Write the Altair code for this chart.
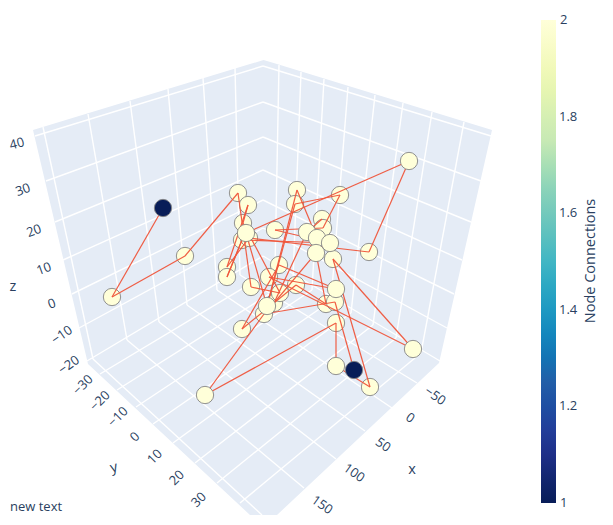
import altair as alt
import pandas as pd

# Scene box outline as projected on the picture
pane_x = [33, 88, 250, 263.5, 277, 439, 492]
pane_top = [130, 113.3, 64.1, 60, 64.1, 113.8, 130]
pane_bottom = [130, 364, 515, 515, 515, 363, 130]

# Grid lines of the scene, as projected
grid_x1 = [35, 46, 55, 63, 72, 79, 87,
           263, 263, 263, 263, 263, 263, 263,
           43, 88, 130, 168, 203, 235,
           279, 301, 324, 348, 375, 403, 432, 464,
           93, 127, 159, 187, 217, 240,
           100, 117, 136, 153, 173, 195, 217, 240]
grid_y1 = [136, 181, 222, 260, 294, 328, 361,
           66, 102, 137, 170, 200, 228, 256,
           127, 114, 101, 89, 78, 68,
           65, 72, 79, 87, 95, 103, 112, 122,
           359, 340, 322, 305, 290, 275,
           374, 390, 407, 424, 443, 463, 483, 503]
grid_x2 = [263, 263, 263, 263, 263, 263, 263,
           491, 481, 471, 462, 454, 447, 440,
           93, 127, 159, 187, 217, 240,
           275, 293, 312, 331, 351, 373, 396, 421,
           262, 304, 336, 365, 392, 417,
           275, 293, 312, 331, 351, 373, 396, 421]
grid_y2 = [66, 102, 137, 170, 200, 228, 256,
           136, 181, 222, 260, 294, 328, 361,
           359, 340, 322, 305, 290, 275,
           269, 279, 290, 301, 313, 325, 338, 353,
           515, 488, 459, 431, 408, 383,
           269, 279, 290, 301, 313, 325, 338, 353]

# Nodes: projected position, connections, drawn above the edges or not
node_x = [112, 185, 238, 248, 243, 227, 227, 251, 279, 275,
          297, 295, 340, 322, 323, 369, 333, 269, 296, 326,
          335, 336, 274, 264, 242, 370, 280, 242, 249, 409,
          413, 205, 336, 163, 354, 307, 317, 330, 316, 246,
          267, 336]
node_y = [297, 256, 193, 205, 223, 267, 277, 287, 265, 230,
          190, 204, 195, 219, 228, 252, 259, 277, 285, 304,
          302, 323, 303, 314, 329, 387, 293, 240, 238, 161,
          349, 395, 366, 208, 370, 232, 238, 243, 253, 233,
          306, 289]
node_conn = [2] * 33 + [1, 1] + [2] * 7
node_front = [False] * 29 + [True] * 13

# Edges as pairs of node positions in the lists above
edge_a = [33, 0, 1, 2, 7, 26, 4, 3, 5, 28, 15, 29, 39, 40, 11, 12, 14, 9, 37, 27,
          6, 13, 35, 22, 38, 19, 18, 24, 8, 41, 17, 30, 16, 25, 32, 21, 31, 23, 20, 10, 10]
edge_b = [0, 1, 2, 7, 26, 4, 3, 5, 28, 15, 29, 39, 40, 11, 12, 14, 9, 37, 27, 6,
          27, 35, 22, 38, 19, 18, 24, 8, 41, 17, 30, 16, 25, 32, 21, 31, 23, 20, 34, 36, 40]

legend_values = [1.2, 1.4, 1.6, 1.8]

tick_text = ["40", "30", "20", "10", "0", "−10", "−20",
             "−30", "−20", "−10", "0", "10", "20", "30",
             "−50", "0", "50", "100", "150"]
tick_x = [17, 23, 34, 44, 52, 62, 69,
          83, 100, 118, 135, 155, 177, 199,
          435, 410, 383, 354, 322]
tick_y = [144, 190, 231, 269, 304, 335, 365,
          385, 401, 417, 437, 457, 478, 500,
          396, 418, 445, 473, 505]
tick_angle = [345, 340, 340, 340, 340, 325, 325,
              315, 315, 315, 315, 315, 315, 315,
              35, 35, 35, 35, 35]

title_text = ["x", "y", "z"]
title_x = [412, 114, 13]
title_y = [470, 468, 287]
title_angle = [0, 345, 0]

end_text = ["2", "1"]
end_x = [560, 560]
end_y = [20, 503]

fnt = "Open Sans"
ink = "#2a3f5f"
x_s = alt.Scale(domain=[8, 605], nice=False, zero=False)
y_s = alt.Scale(domain=[517, 8], nice=False, zero=False)
X = lambda f: alt.X(f, type="quantitative", scale=x_s, axis=None)
Y = lambda f: alt.Y(f, type="quantitative", scale=y_s, axis=None)

pane = alt.Chart(pd.DataFrame({"x": pane_x, "t": pane_top, "b": pane_bottom})).mark_area(
    color="#E5ECF6", opacity=1
).encode(x=X("x"), y=Y("t"), y2="b")

grid = alt.Chart(pd.DataFrame({"x": grid_x1, "y": grid_y1, "x2": grid_x2, "y2": grid_y2})).mark_rule(
    color="white", strokeWidth=1.4
).encode(x=X("x"), y=Y("y"), x2="x2", y2="y2")

nodes = pd.DataFrame({"x": node_x, "y": node_y, "conn": node_conn, "front": node_front})
edges = pd.DataFrame({
    "x": [node_x[i] for i in edge_a], "y": [node_y[i] for i in edge_a],
    "x2": [node_x[i] for i in edge_b], "y2": [node_y[i] for i in edge_b],
})

color = alt.Color(
    "conn:Q",
    scale=alt.Scale(domain=[1, 2], range=["#081d58", "#253494", "#225ea8", "#1d91c0", "#41b6c4",
                                          "#7fcdbb", "#c7e9b4", "#edf8b1", "#ffffd9"]),
    legend=alt.Legend(orient="none", legendX=533, legendY=12, title=None, values=legend_values,
                      gradientLength=483, gradientThickness=15, labelFont=fnt, labelFontSize=13,
                      labelColor=ink, format="~g", labelBaseline="middle", labelOffset=3),
)


def circles(df):
    return alt.Chart(df).mark_circle(size=300, opacity=1, stroke="#858585", strokeWidth=0.9).encode(
        x=X("x"), y=Y("y"), color=color
    )


back = circles(nodes[~nodes.front])
front = circles(nodes[nodes.front])

edge_layer = alt.Chart(edges).mark_rule(color="#EF553B", strokeWidth=1.2, opacity=0.95).encode(
    x=X("x"), y=Y("y"), x2="x2", y2="y2"
)

ticks = alt.Chart(pd.DataFrame({"t": tick_text, "x": tick_x, "y": tick_y, "a": tick_angle})).mark_text(
    font=fnt, fontSize=13, color=ink
).encode(x=X("x"), y=Y("y"), text="t:N", angle=alt.Angle("a:Q", scale=None))

titles = alt.Chart(pd.DataFrame({"t": title_text, "x": title_x, "y": title_y, "a": title_angle})).mark_text(
    font=fnt, fontSize=14.5, color=ink
).encode(x=X("x"), y=Y("y"), text="t:N", angle=alt.Angle("a:Q", scale=None))

ends = alt.Chart(pd.DataFrame({"t": end_text, "x": end_x, "y": end_y})).mark_text(
    font=fnt, fontSize=13, color=ink, align="left"
).encode(x=X("x"), y=Y("y"), text="t:N")

cb_title = alt.Chart(pd.DataFrame({"t": ["Node Connections"], "x": [591], "y": [261]})).mark_text(
    font=fnt, fontSize=14.5, color=ink, angle=270
).encode(x=X("x"), y=Y("y"), text="t:N")

note = alt.Chart(pd.DataFrame({"t": ["new text"], "x": [10], "y": [507]})).mark_text(
    font=fnt, fontSize=13, color=ink, align="left"
).encode(x=X("x"), y=Y("y"), text="t:N")

chart = alt.layer(
    pane, grid, back, edge_layer, front, ticks, titles, ends, cb_title, note
).properties(
    width=597, height=509, padding=0, autosize=alt.AutoSizeParams(type="none")
).configure_view(stroke=None)

chart.save("out.html", embed_options={"renderer": "svg", "actions": False})
